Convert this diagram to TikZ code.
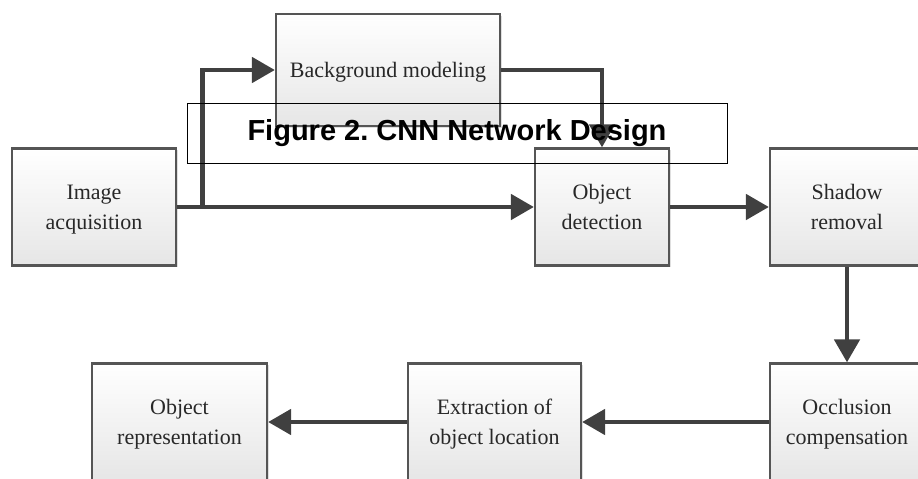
\documentclass[tikz,border=0pt]{standalone}
\usepackage{fontspec}
\setmainfont{Liberation Serif}
\newfontfamily\capfont{Liberation Sans}
\usepackage{tikz}
\usetikzlibrary{positioning, arrows.meta, shadows, calc}
\definecolor{boxline}{RGB}{85,85,85}
\definecolor{arrgray}{RGB}{64,64,64}
\definecolor{boxtext}{RGB}{40,40,40}
\definecolor{boxbot}{RGB}{230,230,230}
\frenchspacing

\begin{document}
\begin{tikzpicture}[x=1pt, y=-1pt,
		block/.style={draw=boxline, line width=2.2pt, top color=white, bottom color=boxbot,
			drop shadow={shadow xshift=1.5pt, shadow yshift=-1.5pt, opacity=0.25},
			align=center, text=boxtext, font=\fontsize{22}{30}\selectfont,
			minimum height=117pt, inner sep=0pt, text depth=0pt},
		arr/.style={draw=arrgray, line width=4.8pt, -{Triangle[length=23pt, width=25pt]}}]
		\useasboundingbox (0,0) rectangle (918,479);
		\clip (0,0) rectangle (918,479);
		% top row
		\node[block, minimum width=164pt] (acq) at (94,207) {Image\\acquisition};
		\node[block, minimum width=224pt, minimum height=112pt] (bgm) at (388,70) {Background modeling};
		\node[block, minimum width=134pt] (det) at (602,207) {Object\\detection};
		\node[block, minimum width=154pt] (sha) at (847,207) {Shadow\\removal};
		% bottom row
		\node[block, minimum width=154pt] (occ) at (847,422) {Occlusion\\compensation};
		\node[block, minimum width=173pt] (ext) at (494.5,422) {Extraction of\\object location};
		\node[block, minimum width=175pt] (rep) at (179.5,422) {Object\\representation};
		\coordinate (fork) at ($(acq.east)+(25,0)$);
		% connectors
		\draw[arr] (acq) -- (det);
		\draw[arr] (fork) |- (bgm.west);
		\draw[arr] (bgm.east) -| (det.north);
		\draw[arr] (det) -- (sha);
		\draw[arr] (sha) -- (occ);
		\draw[arr] (occ) -- (ext);
		\draw[arr] (ext) -- (rep);
		% caption box
		\node[draw, line width=0.9pt, minimum width=540pt, minimum height=60pt, inner sep=0pt,
			font=\capfont\bfseries\fontsize{29}{33}\selectfont] (cap) at (457,133) {Figure 2. CNN Network Design};
	\end{tikzpicture}
\end{document}
